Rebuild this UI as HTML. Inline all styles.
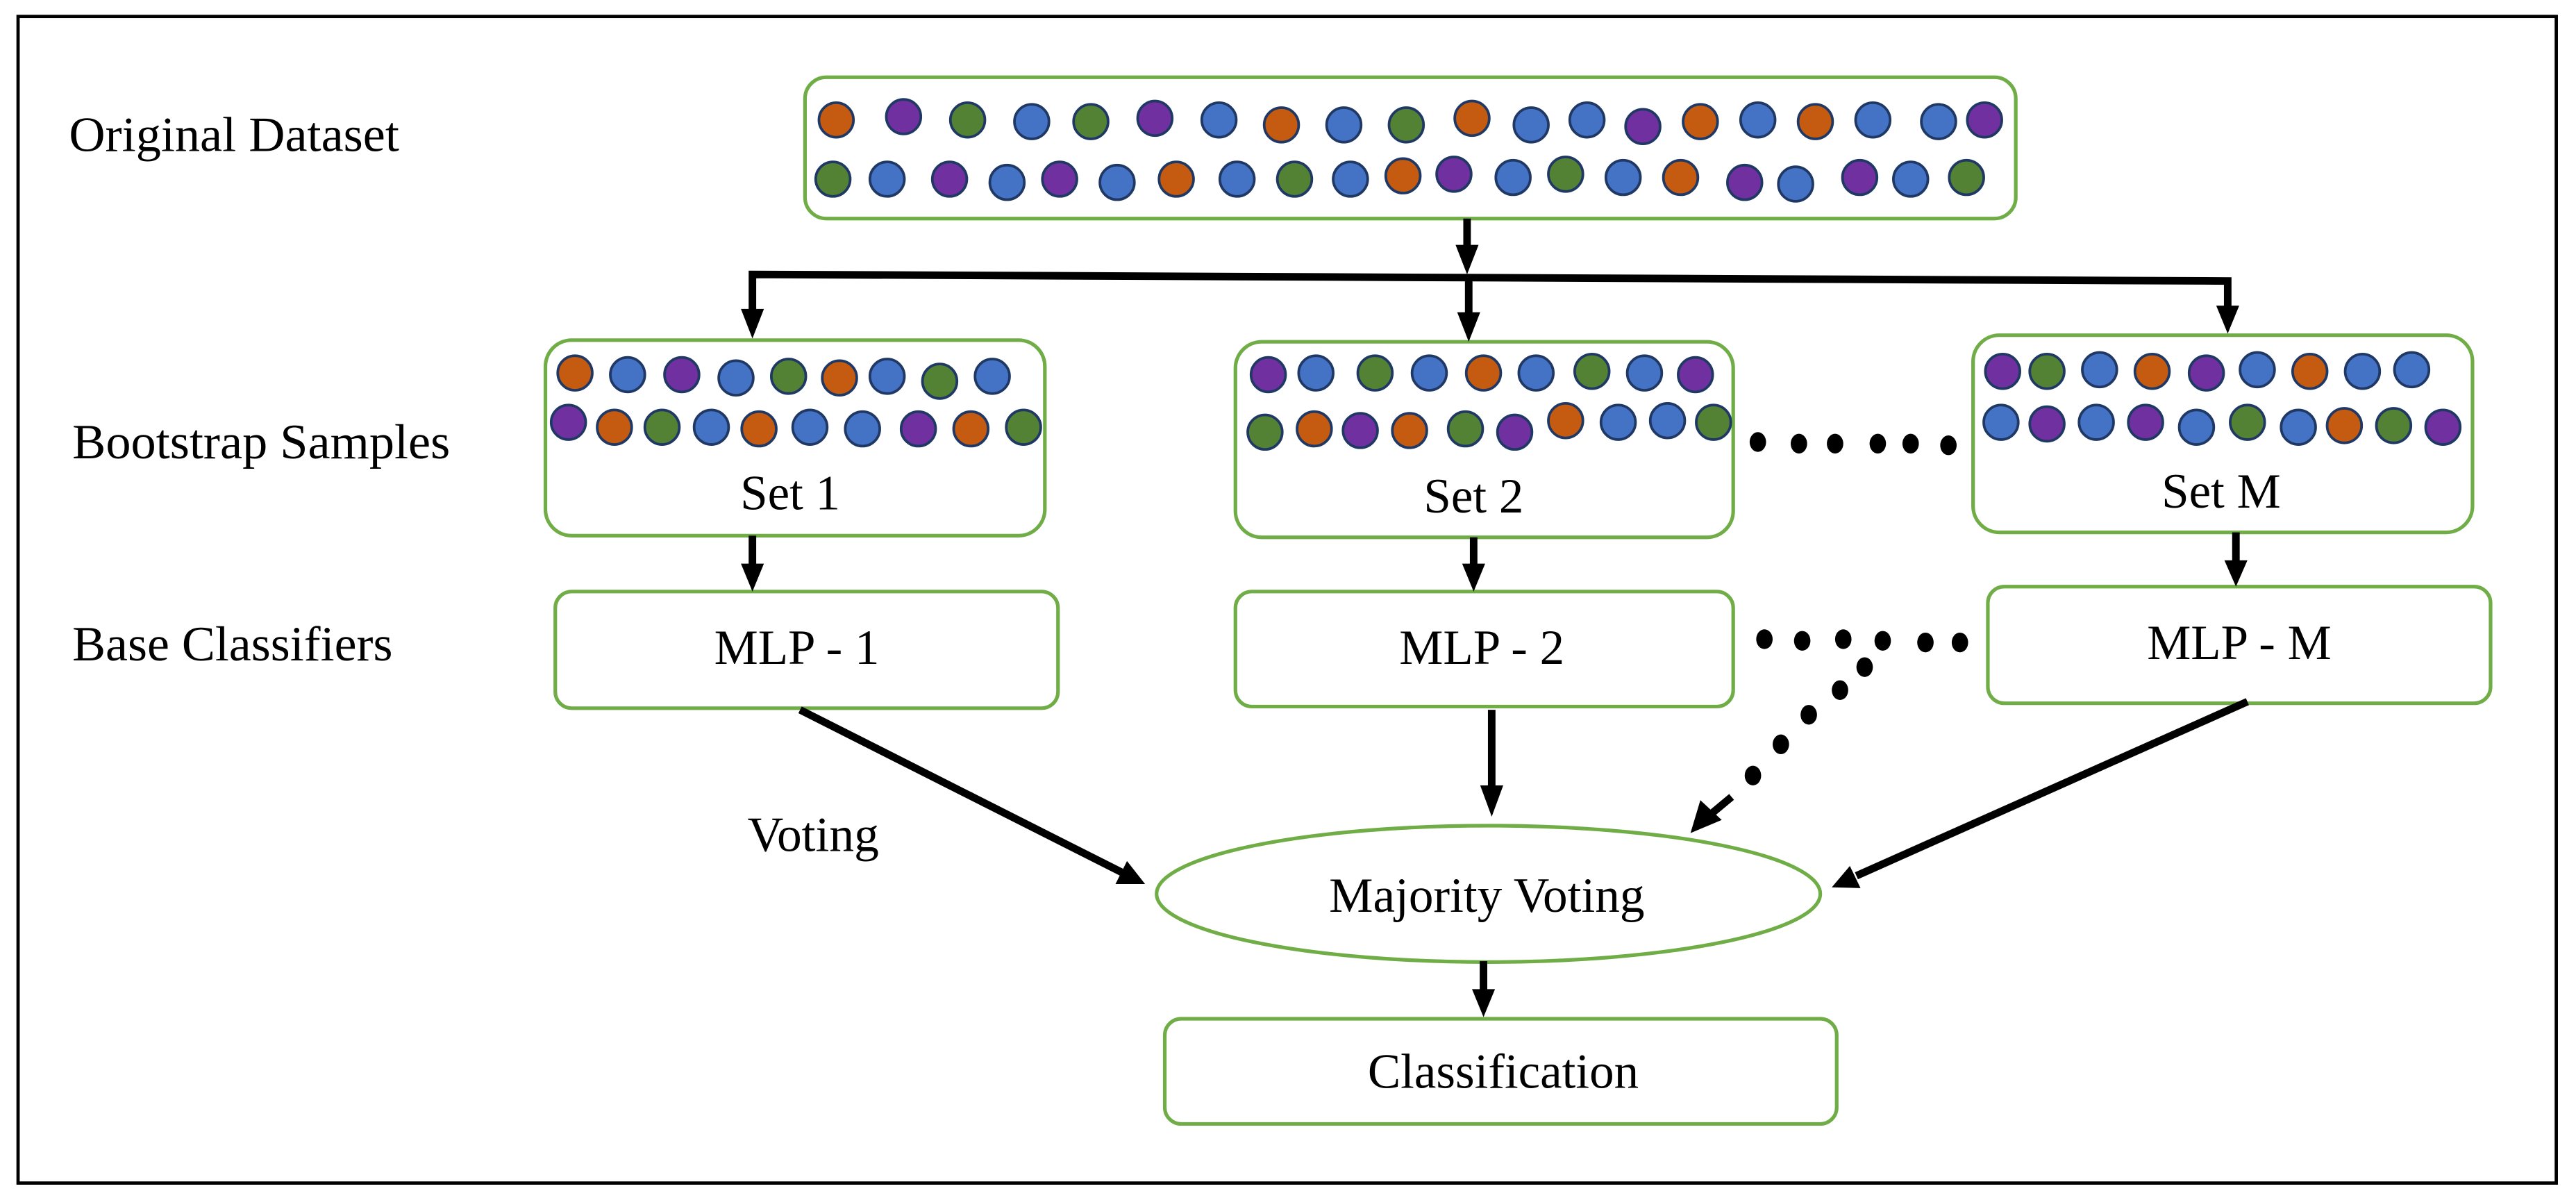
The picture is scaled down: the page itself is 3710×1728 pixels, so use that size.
<!DOCTYPE html>
<html><head><meta charset="utf-8"><style>
html,body{margin:0;padding:0;background:#fff;}
svg{display:block;}
text{font-family:"Liberation Serif",serif;fill:#000;}
</style></head><body>
<svg width="3710" height="1728" viewBox="0 0 1568 730.3" xmlns="http://www.w3.org/2000/svg">
<rect x="0" y="0" width="1568" height="730.3" fill="#fff"/>
<rect x="11" y="10" width="1545" height="710" fill="none" stroke="#000" stroke-width="2"/>

<g font-size="30">
<text x="42" y="92" textLength="201" lengthAdjust="spacingAndGlyphs">Original Dataset</text>
<text x="44" y="279" textLength="230" lengthAdjust="spacingAndGlyphs">Bootstrap Samples</text>
<text x="44" y="402" textLength="195" lengthAdjust="spacingAndGlyphs">Base Classifiers</text>
<text x="455" y="518" textLength="80" lengthAdjust="spacingAndGlyphs">Voting</text>
</g>

<g fill="#fff" stroke="#70AD47" stroke-width="2.2">
<rect x="490" y="47" width="737" height="86" rx="13"/>
<rect x="332" y="207" width="304" height="119" rx="16"/>
<rect x="752" y="208" width="303" height="119" rx="16"/>
<rect x="1201" y="204" width="304" height="120" rx="16"/>
<rect x="338" y="360" width="306" height="71" rx="10"/>
<rect x="752" y="360" width="303" height="70" rx="10"/>
<rect x="1210" y="357" width="306" height="71" rx="10"/>
<ellipse cx="906" cy="544" rx="202" ry="41.5"/>
<rect x="709" y="620" width="409" height="64" rx="10"/>
</g>

<g font-size="30" text-anchor="middle">
<text x="481" y="310">Set 1</text>
<text x="897" y="312">Set 2</text>
<text x="1352" y="309">Set M</text>
<text x="485" y="404">MLP - 1</text>
<text x="902" y="404">MLP - 2</text>
<text x="1363" y="401">MLP - M</text>
<text x="905" y="555" textLength="192" lengthAdjust="spacingAndGlyphs">Majority Voting</text>
<text x="915" y="662">Classification</text>
</g>

<g stroke="#1F3864" stroke-width="1.6">
<circle cx="509" cy="73" r="10.5" fill="#C55A11"/>
<circle cx="550" cy="71" r="10.5" fill="#7030A0"/>
<circle cx="589" cy="73" r="10.5" fill="#548235"/>
<circle cx="628" cy="74" r="10.5" fill="#4472C4"/>
<circle cx="664" cy="74" r="10.5" fill="#548235"/>
<circle cx="703" cy="72" r="10.5" fill="#7030A0"/>
<circle cx="742" cy="73" r="10.5" fill="#4472C4"/>
<circle cx="780" cy="76" r="10.5" fill="#C55A11"/>
<circle cx="818" cy="76" r="10.5" fill="#4472C4"/>
<circle cx="856" cy="76" r="10.5" fill="#548235"/>
<circle cx="896" cy="72" r="10.5" fill="#C55A11"/>
<circle cx="932" cy="76" r="10.5" fill="#4472C4"/>
<circle cx="966" cy="73" r="10.5" fill="#4472C4"/>
<circle cx="1000" cy="77" r="10.5" fill="#7030A0"/>
<circle cx="1035" cy="74" r="10.5" fill="#C55A11"/>
<circle cx="1070" cy="73" r="10.5" fill="#4472C4"/>
<circle cx="1105" cy="74" r="10.5" fill="#C55A11"/>
<circle cx="1140" cy="73" r="10.5" fill="#4472C4"/>
<circle cx="1180" cy="74" r="10.5" fill="#4472C4"/>
<circle cx="1208" cy="73" r="10.5" fill="#7030A0"/>
<circle cx="507" cy="109" r="10.5" fill="#548235"/>
<circle cx="540" cy="109" r="10.5" fill="#4472C4"/>
<circle cx="578" cy="109" r="10.5" fill="#7030A0"/>
<circle cx="613" cy="111" r="10.5" fill="#4472C4"/>
<circle cx="645" cy="109" r="10.5" fill="#7030A0"/>
<circle cx="680" cy="111" r="10.5" fill="#4472C4"/>
<circle cx="716" cy="109" r="10.5" fill="#C55A11"/>
<circle cx="753" cy="109" r="10.5" fill="#4472C4"/>
<circle cx="788" cy="109" r="10.5" fill="#548235"/>
<circle cx="822" cy="109" r="10.5" fill="#4472C4"/>
<circle cx="854" cy="107" r="10.5" fill="#C55A11"/>
<circle cx="885" cy="106" r="10.5" fill="#7030A0"/>
<circle cx="921" cy="108" r="10.5" fill="#4472C4"/>
<circle cx="953" cy="106" r="10.5" fill="#548235"/>
<circle cx="988" cy="108" r="10.5" fill="#4472C4"/>
<circle cx="1023" cy="108" r="10.5" fill="#C55A11"/>
<circle cx="1062" cy="111" r="10.5" fill="#7030A0"/>
<circle cx="1093" cy="112" r="10.5" fill="#4472C4"/>
<circle cx="1132" cy="108" r="10.5" fill="#7030A0"/>
<circle cx="1163" cy="109" r="10.5" fill="#4472C4"/>
<circle cx="1197" cy="108" r="10.5" fill="#548235"/>

<circle cx="350" cy="227" r="10.5" fill="#C55A11"/>
<circle cx="382" cy="228" r="10.5" fill="#4472C4"/>
<circle cx="415" cy="228" r="10.5" fill="#7030A0"/>
<circle cx="448" cy="230" r="10.5" fill="#4472C4"/>
<circle cx="480" cy="229" r="10.5" fill="#548235"/>
<circle cx="511" cy="230" r="10.5" fill="#C55A11"/>
<circle cx="540" cy="229" r="10.5" fill="#4472C4"/>
<circle cx="572" cy="232" r="10.5" fill="#548235"/>
<circle cx="604" cy="229" r="10.5" fill="#4472C4"/>
<circle cx="346" cy="257" r="10.5" fill="#7030A0"/>
<circle cx="374" cy="260" r="10.5" fill="#C55A11"/>
<circle cx="403" cy="260" r="10.5" fill="#548235"/>
<circle cx="433" cy="260" r="10.5" fill="#4472C4"/>
<circle cx="462" cy="261" r="10.5" fill="#C55A11"/>
<circle cx="493" cy="260" r="10.5" fill="#4472C4"/>
<circle cx="525" cy="261" r="10.5" fill="#4472C4"/>
<circle cx="559" cy="261" r="10.5" fill="#7030A0"/>
<circle cx="591" cy="261" r="10.5" fill="#C55A11"/>
<circle cx="623" cy="260" r="10.5" fill="#548235"/>

<circle cx="772" cy="228" r="10.5" fill="#7030A0"/>
<circle cx="801" cy="227" r="10.5" fill="#4472C4"/>
<circle cx="837" cy="227" r="10.5" fill="#548235"/>
<circle cx="870" cy="227" r="10.5" fill="#4472C4"/>
<circle cx="903" cy="227" r="10.5" fill="#C55A11"/>
<circle cx="935" cy="227" r="10.5" fill="#4472C4"/>
<circle cx="969" cy="226" r="10.5" fill="#548235"/>
<circle cx="1001" cy="227" r="10.5" fill="#4472C4"/>
<circle cx="1032" cy="228" r="10.5" fill="#7030A0"/>
<circle cx="770" cy="263" r="10.5" fill="#548235"/>
<circle cx="800" cy="261" r="10.5" fill="#C55A11"/>
<circle cx="828" cy="262" r="10.5" fill="#7030A0"/>
<circle cx="858" cy="262" r="10.5" fill="#C55A11"/>
<circle cx="892" cy="261" r="10.5" fill="#548235"/>
<circle cx="922" cy="263" r="10.5" fill="#7030A0"/>
<circle cx="953" cy="256" r="10.5" fill="#C55A11"/>
<circle cx="985" cy="257" r="10.5" fill="#4472C4"/>
<circle cx="1015" cy="256" r="10.5" fill="#4472C4"/>
<circle cx="1043" cy="257" r="10.5" fill="#548235"/>

<circle cx="1219" cy="226" r="10.5" fill="#7030A0"/>
<circle cx="1246" cy="226" r="10.5" fill="#548235"/>
<circle cx="1278" cy="225" r="10.5" fill="#4472C4"/>
<circle cx="1310" cy="226" r="10.5" fill="#C55A11"/>
<circle cx="1343" cy="227" r="10.5" fill="#7030A0"/>
<circle cx="1374" cy="225" r="10.5" fill="#4472C4"/>
<circle cx="1406" cy="226" r="10.5" fill="#C55A11"/>
<circle cx="1438" cy="226" r="10.5" fill="#4472C4"/>
<circle cx="1468" cy="225" r="10.5" fill="#4472C4"/>
<circle cx="1218" cy="257" r="10.5" fill="#4472C4"/>
<circle cx="1246" cy="258" r="10.5" fill="#7030A0"/>
<circle cx="1276" cy="257" r="10.5" fill="#4472C4"/>
<circle cx="1306" cy="257" r="10.5" fill="#7030A0"/>
<circle cx="1337" cy="260" r="10.5" fill="#4472C4"/>
<circle cx="1368" cy="257" r="10.5" fill="#548235"/>
<circle cx="1399" cy="260" r="10.5" fill="#4472C4"/>
<circle cx="1427" cy="259" r="10.5" fill="#C55A11"/>
<circle cx="1457" cy="259" r="10.5" fill="#548235"/>
<circle cx="1487" cy="260" r="10.5" fill="#7030A0"/>
</g>

<g stroke="#000" stroke-width="4.6" fill="none" stroke-linecap="butt">
<line x1="893" y1="133" x2="893" y2="152"/>
<polyline points="458,190 458,167 1356,171 1356,188"/>
<line x1="894" y1="168" x2="894" y2="192"/>
<line x1="458" y1="326" x2="458" y2="345"/>
<line x1="897" y1="327" x2="897" y2="345"/>
<line x1="1361" y1="324" x2="1361" y2="343"/>
<line x1="908" y1="432" x2="908" y2="480"/>
<line x1="903" y1="585" x2="903" y2="604"/>
<line x1="487" y1="432" x2="683" y2="531"/>
<line x1="1368" y1="427" x2="1130" y2="533"/>
<line x1="1054" y1="485" x2="1042" y2="495"/>
</g>
<g fill="#000">
<polygon points="886,149 900,149 893,167"/>
<polygon points="451,188 465,188 458,206"/>
<polygon points="887,190 901,190 894,208"/>
<polygon points="1349,186 1363,186 1356,203"/>
<polygon points="451,343 465,343 458,360"/>
<polygon points="890,343 904,343 897,360"/>
<polygon points="1354,341 1368,341 1361,357"/>
<polygon points="901,478 915,478 908,497"/>
<polygon points="896,602 910,602 903,619"/>
<polygon points="679,538 686,524 697,538"/>
<polygon points="1126,527 1132.5,540.5 1115,540"/>
<polygon points="1035,487 1048,499 1029,507"/>
<ellipse cx="1070" cy="269" rx="5" ry="6"/>
<ellipse cx="1095" cy="270" rx="5" ry="6"/>
<ellipse cx="1117" cy="270" rx="5" ry="6"/>
<ellipse cx="1143" cy="270" rx="5" ry="6"/>
<ellipse cx="1163" cy="270" rx="5" ry="6"/>
<ellipse cx="1186" cy="271" rx="5" ry="6"/>
<ellipse cx="1074" cy="389" rx="5" ry="6"/>
<ellipse cx="1097" cy="390" rx="5" ry="6"/>
<ellipse cx="1122" cy="389" rx="5" ry="6"/>
<ellipse cx="1146" cy="390" rx="5" ry="6"/>
<ellipse cx="1172" cy="391" rx="5" ry="6"/>
<ellipse cx="1193" cy="391" rx="5" ry="6"/>
<ellipse cx="1135" cy="406" rx="5" ry="6"/>
<ellipse cx="1120" cy="420" rx="5" ry="6"/>
<ellipse cx="1101" cy="435" rx="5" ry="6"/>
<ellipse cx="1084" cy="453" rx="5" ry="6"/>
<ellipse cx="1067" cy="472" rx="5" ry="6"/>
</g>
</svg>
</body></html>
